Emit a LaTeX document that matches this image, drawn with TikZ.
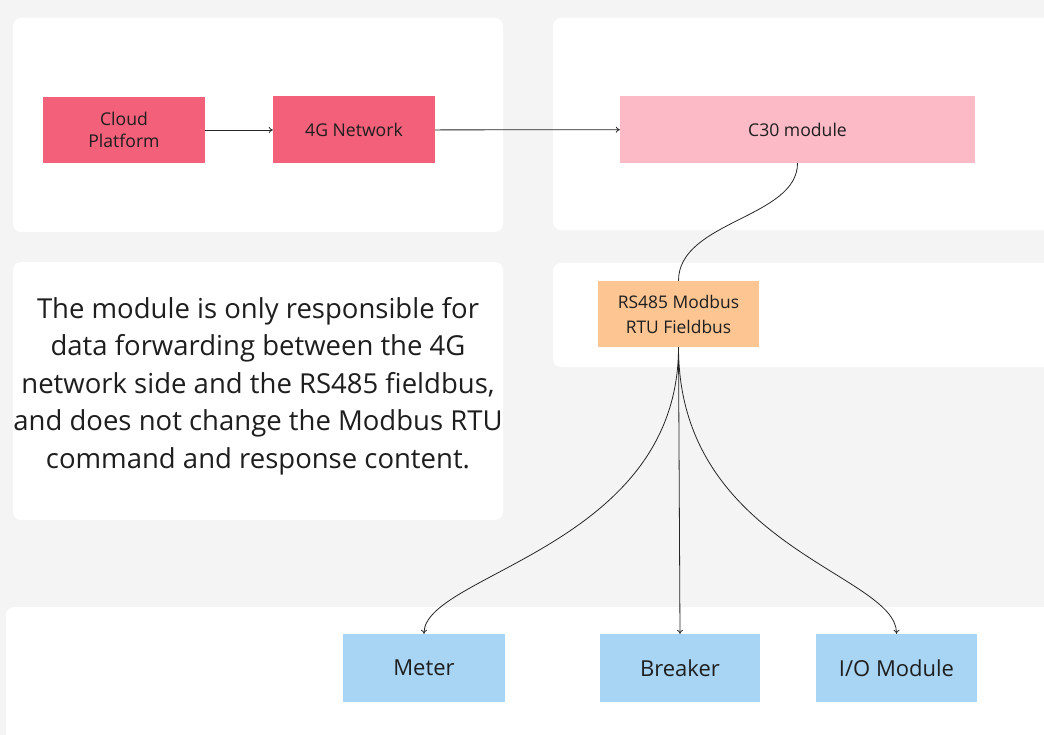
\documentclass[tikz,border=0pt]{standalone}
\usepackage{fontspec}
\setmainfont{Open Sans}
\usetikzlibrary{arrows.meta}
\definecolor{bggray}{HTML}{F4F4F4}
\definecolor{redbox}{HTML}{F2607A}
\definecolor{pinkbox}{HTML}{FBBAC5}
\definecolor{orangebox}{HTML}{FDC592}
\definecolor{bluebox}{HTML}{A9D5F5}
\definecolor{txt}{HTML}{1E1E1E}
\begin{document}
\begin{tikzpicture}[x=1pt,y=-1pt,
  panel/.style={fill=white,rounded corners=8pt},
  blk/.style={draw=none,inner sep=0pt,align=center,text=txt,font=\fontsize{17.6}{22}\selectfont},
  lowblk/.style={blk,fill=bluebox,minimum height=68pt,font=\fontsize{22}{26}\selectfont},
  link/.style={line width=0.8pt,draw=black!85},
  arr/.style={link,-{To[length=4pt,width=6pt]}}]
\useasboundingbox (0,0) rectangle (1044,735);
\fill[bggray] (0,0) rectangle (1044,735);
% panels
\fill[panel] (13,18) rectangle (503,232);
\fill[panel] (553,18) rectangle (1060,230);
\fill[panel] (13,262) rectangle (503,520);
\fill[panel] (553,263) rectangle (1060,367);
\fill[panel] (6,607) rectangle (1060,745);
% nodes
\node[blk,fill=redbox,minimum width=162pt,minimum height=66pt] (cloud) at (124,130) {Cloud\\Platform};
\node[blk,fill=redbox,minimum width=162pt,minimum height=67pt] (net) at (354,130) {4G Network};
\node[blk,fill=pinkbox,minimum width=355pt,minimum height=67pt] (c30) at (797.5,129.5) {C30 module};
\node[blk,fill=orangebox,minimum width=161pt,minimum height=66pt,font=\fontsize{17.4}{25}\selectfont] (rs) at (678.5,314) {RS485 Modbus\\RTU Fieldbus};
\node[lowblk,minimum width=162pt] (meter) at (424,668) {Meter};
\node[lowblk,minimum width=160pt] (breaker) at (680,668) {Breaker};
\node[lowblk,minimum width=161pt] (io) at (896.5,668) {I/O Module};
\node[align=center,text=txt,font=\fontsize{27.5}{37.5}\selectfont,inner sep=0pt] (note) at (258,386)
  {The module is only responsible for\\data forwarding between the 4G\\network side and the RS485 fieldbus,\\and does not change the Modbus RTU\\command and response content.};
% connectors
\draw[arr] (cloud) -- (net);
\draw[arr] (net) -- (c30);
\draw[link] (c30.south) .. controls +(0,55) and +(0,-60) .. (rs.north);
\draw[arr] (rs.south) .. controls +(0,200) and +(0,-60) .. (meter.north);
\draw[arr] (rs.south) -- (breaker.north);
\draw[arr] (rs.south) .. controls +(0,200) and +(0,-60) .. (io.north);
\end{tikzpicture}
\end{document}
